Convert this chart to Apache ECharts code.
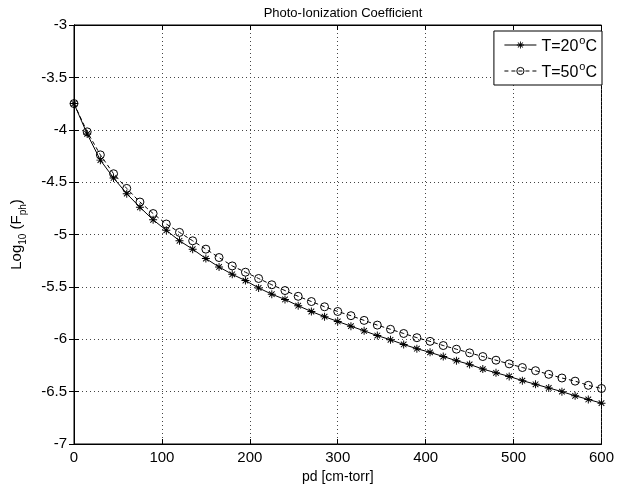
<!DOCTYPE html>
<html>
<head>
<meta charset="utf-8">
<script src="https://cdn.jsdelivr.net/npm/echarts@6/dist/echarts.min.js"></script>
<style>html,body{margin:0;padding:0;background:#fff;}#c{width:617px;height:490px;}</style>
</head>
<body>
<div id="c"></div>
<script>
var pd = [0,15,30,45,60,75,90,105,120,135,150,165,180,195,210,225,240,255,270,285,300,315,330,345,360,375,390,405,420,435,450,465,480,495,510,525,540,555,570,585,600];
var t20 = [-3.75,-4.04,-4.29,-4.46,-4.61,-4.74,-4.86,-4.96,-5.06,-5.14,-5.23,-5.31,-5.38,-5.44,-5.51,-5.57,-5.62,-5.68,-5.735,-5.785,-5.83,-5.875,-5.92,-5.965,-6.005,-6.05,-6.09,-6.125,-6.165,-6.205,-6.24,-6.285,-6.32,-6.355,-6.395,-6.43,-6.465,-6.50,-6.54,-6.575,-6.61];
var t50 = [-3.75,-4.02,-4.24,-4.42,-4.56,-4.69,-4.80,-4.90,-4.98,-5.06,-5.14,-5.22,-5.30,-5.36,-5.42,-5.48,-5.535,-5.59,-5.64,-5.69,-5.735,-5.775,-5.82,-5.865,-5.905,-5.945,-5.985,-6.02,-6.06,-6.095,-6.13,-6.165,-6.20,-6.235,-6.27,-6.30,-6.335,-6.37,-6.40,-6.44,-6.47];
var seriesNames = ['T=20', 'T=50'];
var titleText = 'Photo-Ionization Coefficient';
var xName = 'pd [cm-torr]';

var FONT = '"Liberation Sans", Arial, sans-serif';
var star = 'path://M4.4 0L5.6 0L5.6 10L4.4 10Z M0 4.4L10 4.4L10 5.6L0 5.6Z M1.92 1.08L8.92 8.08L8.08 8.92L1.08 1.92Z M8.08 1.08L8.92 1.92L1.92 8.92L1.08 8.08Z';

function pairs(xs, ys){ return xs.map(function(x,i){ return [x, ys[i]]; }); }

var chart = echarts.init(document.getElementById('c'));
var axisCommon = {
  axisLine: {show: true, lineStyle: {color: '#000', width: 1}},
  axisTick: {show: true, inside: true, length: 5, lineStyle: {color: '#000'}}
};
chart.setOption({
  animation: false,
  backgroundColor: '#fff',
  textStyle: {fontFamily: FONT},
  title: {
    text: titleText, left: 338, textAlign: 'center', top: 2,
    textStyle: {fontFamily: FONT, fontSize: 13, fontWeight: 'normal', color: '#000'}
  },
  grid: {left: 74, right: 12, top: 25, bottom: 46, show: true, borderColor: '#000', borderWidth: 1, backgroundColor: '#fff'},
  legend: {
    orient: 'vertical', right: 15, top: 31,
    backgroundColor: '#fff', borderColor: '#000', borderWidth: 1,
    padding: [4, 5, 4, 10], itemGap: 6, itemWidth: 32, itemHeight: 9,
    lineStyle: {width: 1},
    itemStyle: {borderWidth: 1},
    data: seriesNames,
    formatter: function(n){ return '{m|' + n + '}{s|o}{m|C}'; },
    textStyle: {
      fontFamily: FONT, color: '#000',
      rich: {
        m: {fontFamily: FONT, fontSize: 16, color: '#000', verticalAlign: 'bottom', lineHeight: 17},
        s: {fontFamily: FONT, fontSize: 11, color: '#000', verticalAlign: 'bottom', padding: [0,0,9,1]}
      }
    }
  },
  xAxis: [
    Object.assign({
      type: 'value', min: 0, max: 600, interval: 100, position: 'bottom',
      name: xName, nameLocation: 'middle', nameGap: 25,
      nameTextStyle: {fontFamily: FONT, fontSize: 14, color: '#000'},
      axisLabel: {fontFamily: FONT, fontSize: 15, color: '#000', margin: 6},
      splitLine: {show: true, lineStyle: {color: '#444', type: [1, 3], width: 1}}
    }, axisCommon),
    Object.assign({
      type: 'value', min: 0, max: 600, interval: 100, position: 'top',
      axisLabel: {show: false}, splitLine: {show: false}
    }, axisCommon)
  ],
  yAxis: [
    Object.assign({
      type: 'value', min: -7, max: -3, interval: 0.5, position: 'left',
      name: '{m|Log}{b|10}{m| (F}{b|ph}{m|)}', nameLocation: 'middle', nameGap: 48,
      nameTextStyle: {
        fontFamily: FONT, fontSize: 15, color: '#000',
        rich: {
          m: {fontFamily: FONT, fontSize: 15, color: '#000', verticalAlign: 'top', lineHeight: 17},
          b: {fontFamily: FONT, fontSize: 10, color: '#000', verticalAlign: 'top', padding: [9,0,0,0], lineHeight: 11}
        }
      },
      axisLabel: {fontFamily: FONT, fontSize: 15, color: '#000', margin: 7},
      splitLine: {show: true, lineStyle: {color: '#444', type: [1, 3], width: 1}}
    }, axisCommon),
    Object.assign({
      type: 'value', min: -7, max: -3, interval: 0.5, position: 'right',
      axisLabel: {show: false}, splitLine: {show: false}
    }, axisCommon)
  ],
  series: [
    {
      name: seriesNames[0], type: 'line', data: pairs(pd, t20),
      symbol: star, symbolSize: 8, showSymbol: true,
      lineStyle: {color: '#000', width: 1, type: 'solid'},
      itemStyle: {color: '#000'}
    },
    {
      name: seriesNames[1], type: 'line', data: pairs(pd, t50),
      symbol: 'circle', symbolSize: 8, showSymbol: true,
      lineStyle: {color: '#000', width: 1, type: [4, 3]},
      itemStyle: {color: 'rgba(0,0,0,0)', borderColor: '#000', borderWidth: 1}
    }
  ]
});
</script>
</body>
</html>
